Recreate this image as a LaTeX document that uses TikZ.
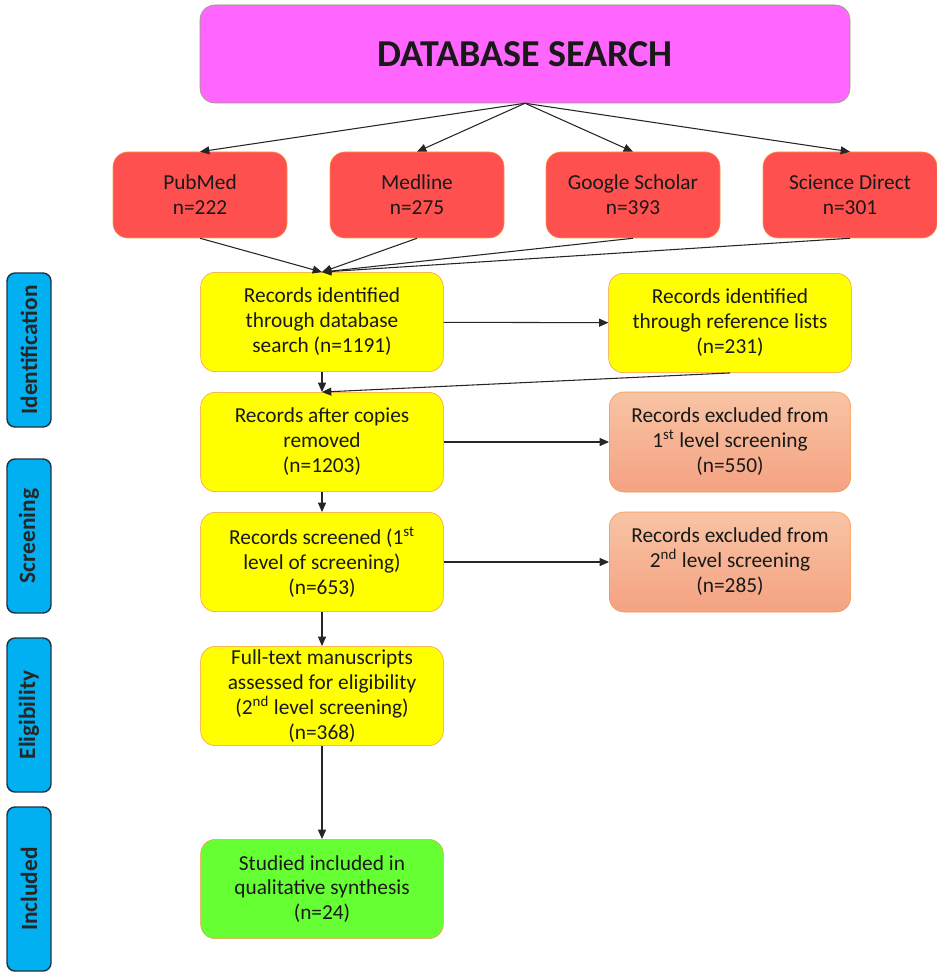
\documentclass[tikz,border=0pt]{standalone}
\usepackage{fontspec}
\setmainfont{Carlito}
\usetikzlibrary{arrows.meta}

\definecolor{dbpink}{HTML}{FF66FF}
\definecolor{dbline}{HTML}{7FAF5A}
\definecolor{srcred}{HTML}{FF5050}
\definecolor{recyellow}{HTML}{FFFF00}
\definecolor{boxline}{HTML}{F79646}
\definecolor{exctop}{HTML}{F8C4A4}
\definecolor{excbot}{HTML}{F4A282}
\definecolor{incgreen}{HTML}{66FF33}
\definecolor{phaseblue}{HTML}{00B0F0}
\definecolor{phaseline}{HTML}{1F3344}

\tikzset{
  flowbox/.style={rounded corners=11pt, draw=boxline, thin, align=center,
    inner sep=0pt, text=black!90, font=\fontsize{16}{18.7}\selectfont},
  srcbox/.style={flowbox, fill=srcred, minimum width=130.5pt, minimum height=64.5pt},
  recbox/.style={flowbox, fill=recyellow, minimum width=182pt, minimum height=74.5pt},
  excbox/.style={flowbox, top color=exctop, bottom color=excbot, minimum width=181pt, minimum height=75pt},
  phase/.style={rounded corners=6pt, draw=phaseline, line width=1.1pt, fill=phaseblue,
    rotate=90, minimum height=33pt, inner sep=0pt, text=black!85,
    font=\fontsize{17.5}{19}\selectfont\bfseries},
  link/.style={->, line width=0.8pt, black!85}
}

\begin{document}
\begin{tikzpicture}[x=0.75pt,y=-0.75pt,>={Triangle[length=7pt,width=6pt]}]
\useasboundingbox (0,0) rectangle (937,973);

% phases on the left
\node[phase, minimum width=115.5pt] (ident) at (29,350) {Identification};
\node[phase, minimum width=115.5pt] (screen) at (29,536) {Screening};
\node[phase, minimum width=115.5pt] (elig) at (29,715) {Eligibility};
\node[phase, minimum width=123pt] (incl) at (29,889) {Included};

% database search
\node[flowbox, fill=dbpink, draw=dbline, minimum width=487.5pt, minimum height=73.5pt,
  font=\fontsize{28.5}{30}\selectfont\bfseries] (db) at (525,54) {DATABASE SEARCH};

\node[srcbox] (pubmed) at (200,195) {PubMed\\n=222};
\node[srcbox] (medline) at (417,195) {Medline\\n=275};
\node[srcbox] (scholar) at (633,195) {Google Scholar\\n=393};
\node[srcbox] (direct) at (850,195) {Science Direct\\n=301};

% main column
\node[recbox] (records) at (322,322) {Records identified\\through database\\search (n=1191)};
\node[recbox] (reflist) at (730,323) {Records identified\\through reference lists\\(n=231)};
\node[recbox] (nocopies) at (322,442) {Records after copies\\removed\\(n=1203)};
\node[excbox] (exclone) at (730,442) {Records excluded from\\1\textsuperscript{st} level screening\\(n=550)};
\node[recbox] (screened) at (322,562) {Records screened (1\textsuperscript{st}\\level of screening)\\(n=653)};
\node[excbox] (excltwo) at (730,562) {Records excluded from\\2\textsuperscript{nd} level screening\\(n=285)};
\node[recbox] (fulltext) at (322,696) {Full-text manuscripts\\assessed for eligibility\\(2\textsuperscript{nd} level screening)\\(n=368)};
\node[recbox, fill=incgreen] (included) at (322,889) {Studied included in\\qualitative synthesis\\(n=24)};

% arrows
\foreach \s in {pubmed,medline,scholar,direct}
  \draw[link] (db.south) -- (\s.north);
\foreach \s in {pubmed,medline,scholar,direct}
  \draw[link] (\s.south) -- (records.north);

\draw[link] (records) -- (reflist);
\draw[link] (records) -- (nocopies);
\draw[link] (reflist.south) -- (nocopies.north);
\draw[link] (nocopies) -- (exclone);
\draw[link] (nocopies) -- (screened);
\draw[link] (screened) -- (excltwo);
\draw[link] (screened) -- (fulltext);
\draw[link] (fulltext) -- (included);
\end{tikzpicture}
\end{document}
